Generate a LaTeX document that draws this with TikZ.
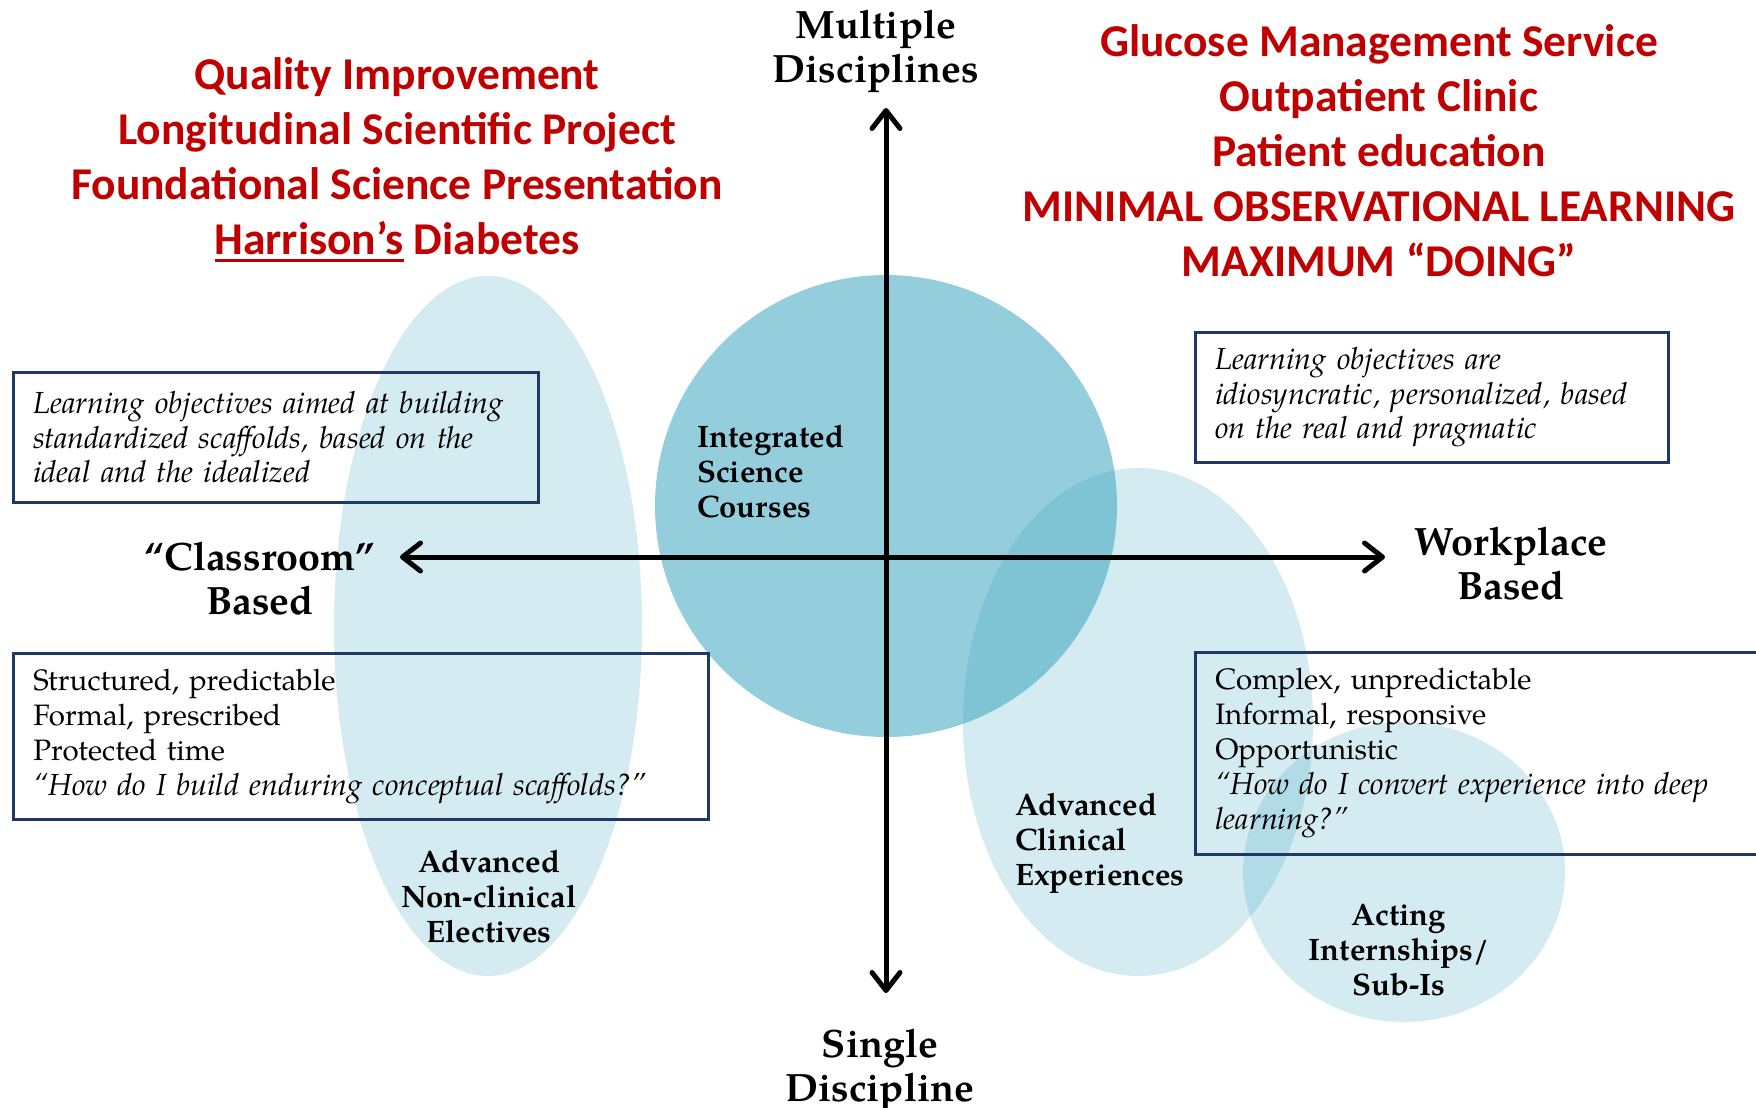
\documentclass[tikz,border=0pt]{standalone}
\usepackage{fontspec}
\setmainfont{texgyrepagella}[Extension=.otf,UprightFont=*-regular,BoldFont=*-bold,ItalicFont=*-italic,BoldItalicFont=*-bolditalic]
\newfontfamily\calibri{Carlito}
\usetikzlibrary{arrows.meta}
\definecolor{blobc}{RGB}{50,160,188}
\definecolor{boxc}{RGB}{31,56,100}
\definecolor{redc}{RGB}{192,0,0}
\newcommand\myul[1]{\setbox0\hbox{#1}\rlap{\rule[-7pt]{\wd0}{3pt}}\box0\relax}
\newcommand\itq[1]{{\fontsize{30.5}{35}\selectfont\itshape #1}}
\tikzset{
  axisline/.style={line width=5pt,{Straight Barb[length=18pt,width=28pt,round]}-{Straight Barb[length=18pt,width=28pt,round]}},
  axislabel/.style={font=\fontsize{39.5}{44}\selectfont\bfseries,align=center,inner sep=0pt},
  blobtext/.style={font=\fontsize{31}{35}\selectfont\bfseries,inner sep=0pt},
  infobox/.style={draw=boxc,line width=2.5pt,anchor=north west,inner xsep=20pt,inner ysep=0pt,align=left,font=\fontsize{29.5}{35}\selectfont},
  italbox/.style={infobox,font=\fontsize{30.5}{34.5}\selectfont\itshape},
  redtext/.style={text=redc,font=\fontsize{45.5}{55}\selectfont\calibri\bfseries,align=center,inner sep=0pt},
}
\begin{document}
\begin{tikzpicture}[x=1pt,y=-1pt]
\useasboundingbox (0,0) rectangle (1756,1108);
% blobs
\fill[blobc,opacity=0.21] (488,626) ellipse [x radius=154,y radius=350];
\fill[blobc,opacity=0.52] (886,506) circle [radius=231];
\fill[blobc,opacity=0.21] (1138,722) ellipse [x radius=175,y radius=254];
\fill[blobc,opacity=0.21] (1404,872) ellipse [x radius=161,y radius=150];
% boxes
\node[italbox,minimum width=525pt,minimum height=130pt,text width=485pt] (tl) at (12,371)
  {Learning objectives aimed at building\\standardized scaffolds, based on the\\ideal and the idealized};
\node[infobox,minimum width=695pt,minimum height=166pt,text width=655pt] (bl) at (12,652)
  {Structured, predictable\\Formal, prescribed\\Protected time\\\itq{“How do I build enduring conceptual scaffolds?”}};
\node[italbox,minimum width=473pt,minimum height=130pt,text width=433pt] (tr) at (1194,331)
  {Learning objectives are\\idiosyncratic, personalized, based\\on the real and pragmatic};
\node[infobox,minimum width=580pt,minimum height=202pt,text width=540pt] (br) at (1194,651)
  {Complex, unpredictable\\Informal, responsive\\Opportunistic\\\itq{“How do I convert experience into deep}\\\itq{learning?”}};
% axes
\coordinate (top) at (886,108);
\coordinate (bot) at (886,993);
\coordinate (lft) at (400,557);
\coordinate (rgt) at (1385,557);
\draw[axisline] (bot) -- (top);
\draw[axisline] (lft) -- (rgt);
% axis labels
\node[axislabel] (multi) at (876,51) {Multiple\\Disciplines};
\node[axislabel] (single) at (880,1070) {Single\\Discipline};
\node[axislabel] (class) at (260,579) {“Classroom”\\Based};
\node[axislabel] (work) at (1511,564) {Workplace\\Based};
% blob labels
\node[blobtext,anchor=west,align=left] (isc) at (697,472) {Integrated\\Science\\Courses};
\node[blobtext,align=center] (anc) at (489,897) {Advanced\\Non-clinical\\Electives};
\node[blobtext,anchor=west,align=left] (ace) at (1015,843) {Advanced\\Clinical\\Experiences};
\node[blobtext,align=center] (ais) at (1399,950) {Acting\\Internships/\\Sub-Is};
% red texts
\node[redtext] (redl) at (397,160) {Quality Improvement\\Longitudinal Scientific Project\\Foundational Science Presentation\\\myul{Harrison’s} Diabetes};
\node[redtext] (redr) at (1379,151) {Glucose Management Service\\Outpatient Clinic\\Patient education\\MINIMAL OBSERVATIONAL LEARNING\\MAXIMUM “DOING”};
\end{tikzpicture}
\end{document}
